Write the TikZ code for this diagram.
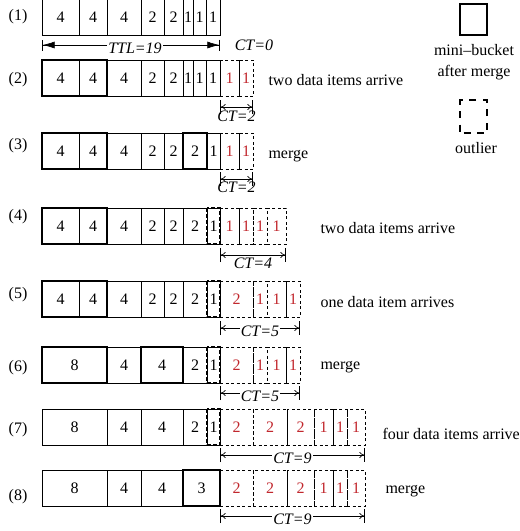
\documentclass[tikz,border=0pt]{standalone}
\usepackage{fontspec}
\setmainfont{Liberation Serif}
\usetikzlibrary{arrows.meta}

\definecolor{dred}{HTML}{C1272D}

\tikzset{
  cell/.style={draw, line width=0.6pt, minimum height=36pt, inner sep=0pt, outer sep=0pt, anchor=north west},
  outcell/.style={cell, dash pattern=on 3pt off 2.5pt, text=dred},
  mbox/.style={draw, line width=1.4pt},
  straybox/.style={draw, line width=1.1pt, dash pattern=on 4pt off 2pt},
  divider/.style={line width=0.6pt},
  ttlline/.style={line width=0.6pt, {Bar[width=11pt]Latex[length=12pt,width=7pt]}-{Latex[length=12pt,width=7pt]Bar[width=11pt]}},
  ctline/.style={line width=0.6pt, {Bar[width=14pt]To[length=5pt,width=6pt]}-{To[length=5pt,width=6pt]Bar[width=14pt]}},
  ctlabel/.style={font=\fontsize{16}{19}\selectfont\itshape, inner sep=1pt},
  note/.style={anchor=west},
}

% one row of buckets: name, top, list of x1/x2/text/style
\newcommand\bucketrow[3]{%
  \foreach \xa/\xb/\lab/\sty [count=\i] in {#3}
    \node[\sty, minimum width={(\xb-\xa)*1pt}] (#1-\i) at (\xa,#2) {\lab};
}

\begin{document}
\begin{tikzpicture}[x=1pt, y=-1pt, font=\fontsize{16}{19}\selectfont]
  \useasboundingbox (0,0) rectangle (520,531);

  % row labels
  \node (lab1) at (18,17) {(1)};
  \node (lab2) at (18,80) {(2)};
  \node (lab3) at (18,146) {(3)};
  \node (lab4) at (18,217) {(4)};
  \node (lab5) at (18,295) {(5)};
  \node (lab6) at (18,368) {(6)};
  \node (lab7) at (18,430) {(7)};
  \node (lab8) at (18,497) {(8)};

  % (1)
  \bucketrow{r1}{-1}{42/79/4/cell, 79/107/4/cell, 107/141/4/cell, 141/164/2/cell, 164/183/2/cell,
    183/193/1/cell, 193/206/1/cell, 206/220/1/cell}
  \draw[ttlline] ([yshift=-10pt]r1-1.south west) -- ([yshift=-10pt]r1-8.south east)
    node[midway, fill=white, ctlabel, yshift=-3pt, xshift=4pt] (ttl) {TTL=19};
  \node[ctlabel] (ct0) at (254,45) {CT=0};

  % (2)
  \bucketrow{r2}{60}{42/79/4/cell, 79/107/4/cell, 107/141/4/cell, 141/164/2/cell, 164/183/2/cell,
    183/193/1/cell, 193/206/1/cell, 206/220/1/cell, 220/239/1/outcell, 239/253/1/outcell}
  \draw[mbox] (r2-1.north west) rectangle (r2-2.south east);
  \draw[divider] (r2-10.north west) -- (r2-10.south west);
  \draw[ctline] ([yshift=-11pt]r2-9.south west) -- ([yshift=-11pt]r2-10.south east)
    node[midway, below=3pt, ctlabel] (ct2) {CT=2};
  \node[note] (n2) at (265,80) {two data items arrive};

  % (3)
  \bucketrow{r3}{133}{42/79/4/cell, 79/107/4/cell, 107/141/4/cell, 141/164/2/cell, 164/183/2/cell,
    183/207/2/cell, 207/220/1/cell, 220/239/1/outcell, 239/253/1/outcell}
  \draw[mbox] (r3-1.north west) rectangle (r3-2.south east);
  \draw[mbox] (r3-6.north west) rectangle (r3-6.south east);
  \draw[divider] (r3-9.north west) -- (r3-9.south west);
  \draw[ctline] ([yshift=-10pt]r3-8.south west) -- ([yshift=-10pt]r3-9.south east)
    node[midway, below=2pt, ctlabel] (ct3) {CT=2};
  \node[note] (n3) at (265,156) {merge};

  % (4)
  \bucketrow{r4}{208}{42/79/4/cell, 79/107/4/cell, 107/141/4/cell, 141/164/2/cell, 164/183/2/cell,
    183/207/2/cell, 207/220/1/cell, 220/239/1/outcell, 239/253/1/outcell, 253/267/1/outcell, 267/286/1/outcell}
  \draw[mbox] (r4-1.north west) rectangle (r4-2.south east);
  \draw[straybox] (r4-7.north west) rectangle (r4-7.south east);
  \draw[divider] (r4-9.north west) -- (r4-9.south west);
  \draw[ctline] ([yshift=-11pt]r4-8.south west) -- ([yshift=-11pt]r4-11.south east)
    node[midway, below=2pt, ctlabel] (ct4) {CT=4};
  \node[note] (n4) at (317,228) {two data items arrive};

  % (5)
  \bucketrow{r5}{281}{42/79/4/cell, 79/107/4/cell, 107/141/4/cell, 141/164/2/cell, 164/183/2/cell,
    183/207/2/cell, 207/220/1/cell, 220/253/2/outcell, 253/267/1/outcell, 267/286/1/outcell, 286/300/1/outcell}
  \draw[mbox] (r5-1.north west) rectangle (r5-2.south east);
  \draw[straybox] (r5-7.north west) rectangle (r5-7.south east);
  \draw[divider] (r5-11.north west) -- (r5-11.south west);
  \draw[ctline] ([yshift=-11pt]r5-8.south west) -- ([yshift=-11pt]r5-11.south east)
    node[midway, fill=white, ctlabel, yshift=-3pt] (ct5) {CT=5};
  \node[note] (n5) at (317,302) {one data item arrives};

  % (6)
  \bucketrow{r6}{347}{42/107/8/cell, 107/141/4/cell, 141/183/4/cell, 183/207/2/cell, 207/220/1/cell,
    220/253/2/outcell, 253/267/1/outcell, 267/286/1/outcell, 286/300/1/outcell}
  \draw[mbox] (r6-1.north west) rectangle (r6-1.south east);
  \draw[mbox] (r6-3.north west) rectangle (r6-3.south east);
  \draw[straybox] (r6-5.north west) rectangle (r6-5.south east);
  \draw[divider] (r6-9.north west) -- (r6-9.south west);
  \draw[ctline] ([yshift=-10pt]r6-6.south west) -- ([yshift=-10pt]r6-9.south east)
    node[midway, fill=white, ctlabel, yshift=-3pt] (ct6) {CT=5};
  \node[note] (n6) at (317,367) {merge};

  % (7)
  \bucketrow{r7}{409}{42/107/8/cell, 107/141/4/cell, 141/183/4/cell, 183/207/2/cell, 207/220/1/cell,
    220/253/2/outcell, 253/287/2/outcell, 287/314/2/outcell, 314/333/1/outcell, 333/347/1/outcell, 347/365/1/outcell}
  \draw[straybox] (r7-5.north west) rectangle (r7-5.south east);
  \draw[divider] (r7-10.north west) -- (r7-10.south west);
  \draw[ctline] ([yshift=-10pt]r7-6.south west) -- ([yshift=-10pt]r7-11.south east)
    node[midway, fill=white, ctlabel, yshift=-3pt] (ct7) {CT=9};
  \node[note] (n7) at (379,434) {four data items arrive};

  % (8)
  \bucketrow{r8}{470}{42/107/8/cell, 107/141/4/cell, 141/183/4/cell, 183/220/3/cell,
    220/253/2/outcell, 253/287/2/outcell, 287/314/2/outcell, 314/333/1/outcell, 333/347/1/outcell, 347/365/1/outcell}
  \draw[mbox] (r8-4.north west) rectangle (r8-4.south east);
  \draw[divider] (r8-9.north west) -- (r8-9.south west);
  \draw[ctline] ([yshift=-10pt]r8-5.south west) -- ([yshift=-10pt]r8-10.south east)
    node[midway, fill=white, ctlabel, yshift=-3pt] (ct8) {CT=9};
  \node[note] (n8) at (382,491) {merge};

  % legend
  \node[draw, line width=1.6pt, minimum width=27pt, minimum height=31pt] (keymb) at (473.5,19.5) {};
  \node[align=center, font=\fontsize{16}{21}\selectfont] (keymbt) at (474,62) {mini--bucket\\after merge};
  \node[draw, line width=1.6pt, dash pattern=on 7pt off 6.5pt, dash phase=10pt,
    minimum width=27pt, minimum height=33pt] (keyout) at (473.5,116.5) {};
  \node (keyoutt) at (476,148) {outlier};
\end{tikzpicture}
\end{document}
